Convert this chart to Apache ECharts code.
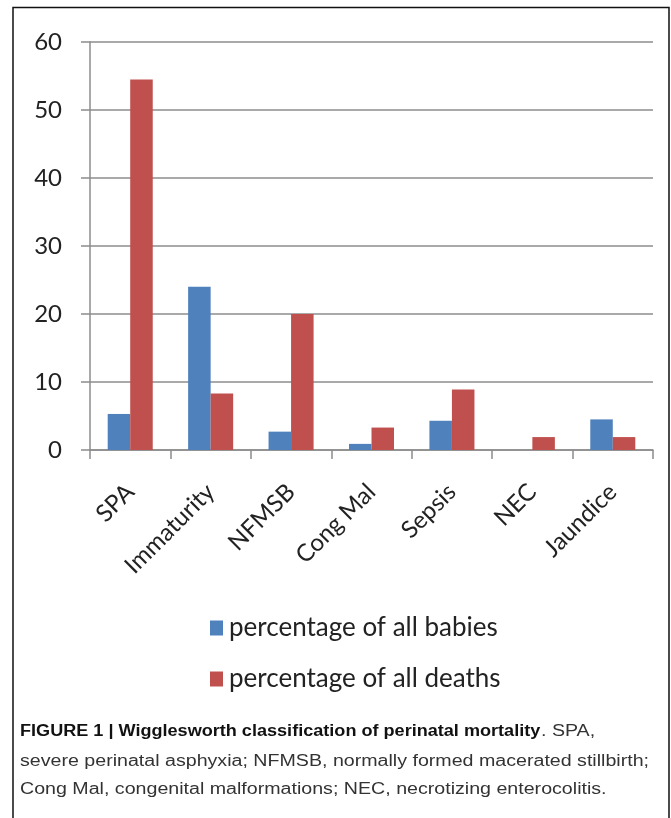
<!DOCTYPE html>
<html>
<head>
<meta charset="utf-8">
<script src="https://cdn.jsdelivr.net/npm/echarts@6/dist/echarts.min.js"></script>
<style>
  html, body { margin: 0; padding: 0; background: #fff; }
  #chart { width: 671px; height: 818px; }
</style>
</head>
<body>
<div id="chart"></div>
<script>
// Causes of perinatal mortality (Wigglesworth classification)
const categories = ['SPA', 'Immaturity', 'NFMSB', 'Cong Mal', 'Sepsis', 'NEC', 'Jaundice'];
const allBabies = [5.3, 24.0, 2.7, 0.9, 4.3, 0, 4.5];
const allDeaths = [54.5, 8.3, 20.0, 3.3, 8.9, 1.9, 1.9];
const seriesNames = ['percentage of all babies', 'percentage of all deaths'];
const yTicks = { min: 0, max: 60, interval: 10 };

const captionBold = 'FIGURE 1 | Wigglesworth classification of perinatal mortality';
const captionLines = [
  '. SPA,',
  'severe perinatal asphyxia; NFMSB, normally formed macerated stillbirth;',
  'Cong Mal, congenital malformations; NEC, necrotizing enterocolitis.'
];

const chart = echarts.init(document.getElementById('chart'), null, { renderer: 'canvas' });

const axisGrey = '#8c8c8c';
const font = 'Lato, "Open Sans", sans-serif';
const capFont = '"Liberation Sans", Arial, sans-serif';
const capSize = 16;

// caption text, stretched slightly wider like the journal's typeface
function capText(txt, x, y, bold, sx) {
  return {
    type: 'text', x: x, y: y, scaleX: sx, silent: true,
    style: {
      text: txt, fontFamily: capFont, fontSize: capSize,
      fontWeight: bold ? 'bold' : 'normal',
      fill: bold ? '#111' : '#333', textVerticalAlign: 'middle'
    }
  };
}

chart.setOption({
  animation: false,
  backgroundColor: '#fff',
  grid: { left: 90, right: 18, top: 42, bottom: 368, containLabel: false },
  xAxis: {
    type: 'category',
    data: categories,
    axisLine: { lineStyle: { color: axisGrey, width: 1.5 } },
    axisTick: { show: true, length: 9, lineStyle: { color: axisGrey, width: 1.5 } },
    axisLabel: {
      rotate: 45, margin: 38, fontSize: 24, color: '#222', fontFamily: font, interval: 0
    }
  },
  yAxis: {
    type: 'value',
    min: yTicks.min, max: yTicks.max, interval: yTicks.interval,
    axisLine: { show: true, lineStyle: { color: axisGrey, width: 1.5 } },
    axisTick: { show: true, length: 9, lineStyle: { color: axisGrey, width: 1.5 } },
    splitLine: { lineStyle: { color: axisGrey, width: 1.5 } },
    axisLabel: { fontSize: 24, color: '#222', fontFamily: font, margin: 28 }
  },
  legend: {
    orient: 'vertical',
    left: 205, top: 610,
    itemWidth: 13, itemHeight: 15, itemGap: 25,
    icon: 'rect',
    textStyle: { fontSize: 26, color: '#222', fontFamily: font, padding: [0, 0, 0, 1] },
    data: seriesNames
  },
  series: [
    {
      name: seriesNames[0], type: 'bar', data: allBabies,
      barGap: '0%', barCategoryGap: '44%',
      itemStyle: { color: '#4f81bd' }
    },
    {
      name: seriesNames[1], type: 'bar', data: allDeaths,
      barGap: '0%', barCategoryGap: '44%',
      itemStyle: { color: '#c0504d' }
    }
  ],
  graphic: [
    {
      type: 'rect', silent: true,
      shape: { x: 13, y: 7.5, width: 656, height: 830 },
      style: { fill: 'none', stroke: '#111', lineWidth: 1.5 }
    },
    capText(captionBold, 20, 732, true, 1.13),
    capText(captionLines[0], 541, 732, false, 1.226),
    capText(captionLines[1], 20, 762, false, 1.226),
    capText(captionLines[2], 20, 790, false, 1.226)
  ]
});
</script>
</body>
</html>
